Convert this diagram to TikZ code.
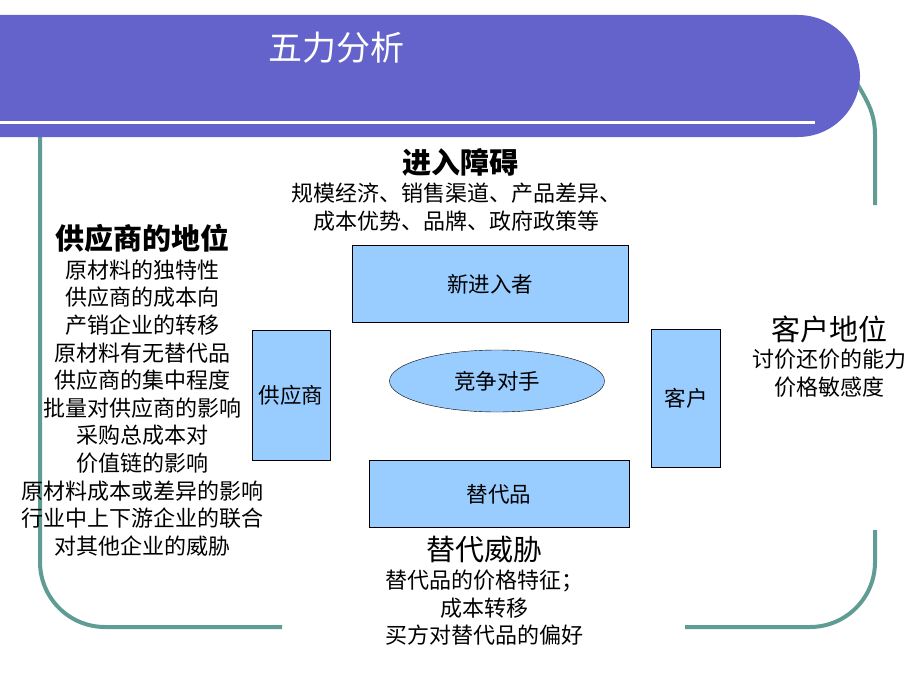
\documentclass[tikz,border=0pt]{standalone}
\usepackage{fontspec}
\setmainfont{Noto Sans CJK SC}
\usetikzlibrary{shapes.geometric}
\definecolor{barblue}{HTML}{6363CB}
\definecolor{boxblue}{HTML}{99CCFF}
\definecolor{framegreen}{HTML}{5E9C94}
\tikzset{
  force/.style={draw=black, fill=boxblue, font=\fontsize{21.5}{24}\selectfont},
  heading/.style={font=\fontsize{29}{32}\selectfont},
  boldheading/.style={font=\fontsize{29}{32}\selectfont\bfseries},
  points/.style={align=center, font=\fontsize{22}{27.6}\selectfont}
}

\begin{document}
\begin{tikzpicture}[x=1pt, y=-1pt]
    \useasboundingbox (0,0) rectangle (920,690);
    \draw[framegreen, line width=4pt, rounded corners=65pt] (40,137) -- (40,627) -- (282,627);
    \draw[framegreen, line width=4pt, rounded corners=65pt] (685,627) -- (875,627) -- (875,530);
    \draw[framegreen, line width=4pt] (855,80) to[out=-60, in=90] (875,135) -- (875,205);
    \fill[barblue, rounded corners=62pt] (0,15) -- (860,15) -- (860,137) -- (0,137);
    \draw[white, line width=3pt] (0,123) -- (815,123);
    \node[white, font=\fontsize{34}{38}\selectfont] (title) at (336,48) {五力分析};

    \node[force, minimum width=276pt, minimum height=77pt] (entrant) at (490,284) {新进入者};
    \node[force, minimum width=78pt, minimum height=130pt] (supplier) at (291,395) {供应商};
    \node[force, minimum width=69pt, minimum height=138pt] (customer) at (686,398) {客户};
    \node[force, minimum width=260pt, minimum height=67pt] (substitute) at (499,494) {替代品};
    \node[force, ellipse, minimum width=215pt, minimum height=62pt] (rival) at (497,381) {竞争对手};

    \node[boldheading] (barrier) at (460,162) {进入障碍};
    \node[points] (barrierlist) at (456,207) {规模经济、销售渠道、产品差异、\\成本优势、品牌、政府政策等};
    \node[boldheading] (supplierpos) at (142,238) {供应商的地位};
    \node[points] (supplierlist) at (142,408) {原材料的独特性\\供应商的成本向\\产销企业的转移\\原材料有无替代品\\供应商的集中程度\\批量对供应商的影响\\采购总成本对\\价值链的影响\\原材料成本或差异的影响\\行业中上下游企业的联合\\对其他企业的威胁};
    \node[heading] (customerpos) at (829,329) {客户地位};
    \node[points] (customerlist) at (829,373) {讨价还价的能力\\价格敏感度};
    \node[heading] (threat) at (484,550) {替代威胁};
    \node[points] (threatlist) at (484,608) {替代品的价格特征；\\成本转移\\买方对替代品的偏好};
\end{tikzpicture}
\end{document}
